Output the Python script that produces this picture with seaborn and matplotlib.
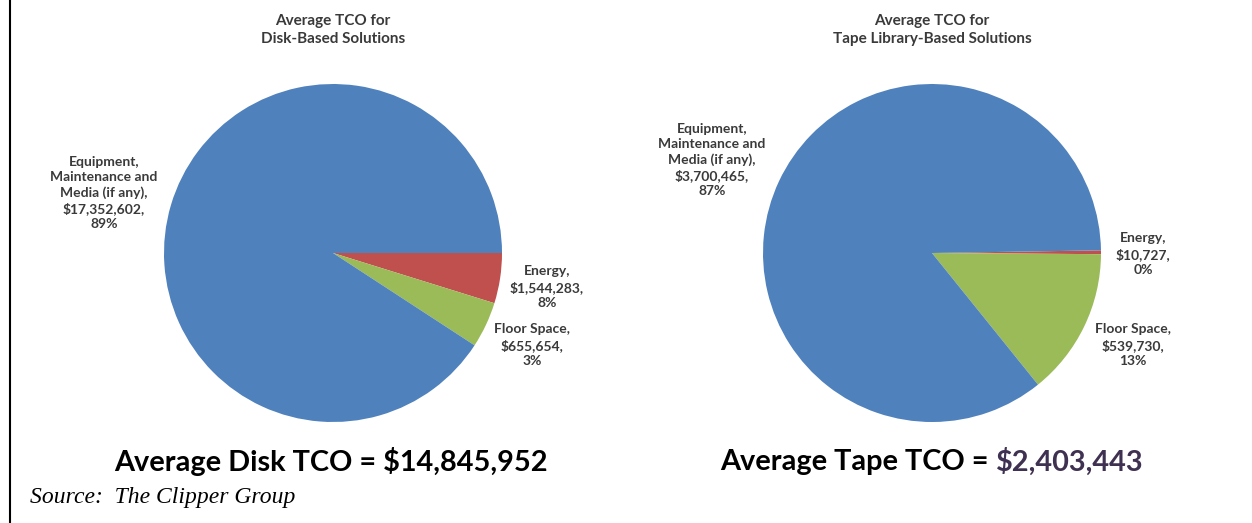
import matplotlib
matplotlib.use("Agg")
import matplotlib.pyplot as plt
import seaborn as sns
from matplotlib.lines import Line2D

sns.set_theme(style="white")
plt.rcParams['font.family'] = ['Lato', 'DejaVu Sans']

# categories (drawn clockwise from 3 o'clock: energy, floor space, equipment)
categories = ["Energy", "Floor Space", "Equipment, Maintenance and Media (if any)"]
colors = ["#C0504D", "#9BBB59", "#4F81BD"]

# wedge shares (percent) as they appear in the picture
disk_share = [4.8, 4.4, 90.8]
tape_share = [0.36, 14.1, 85.54]

# label texts
disk_labels = ["Energy,\n$1,544,283,\n8%",
               "Floor Space,\n$655,654,\n3%",
               "Equipment,\nMaintenance and\nMedia (if any),\n$17,352,602,\n89%"]
tape_labels = ["Energy,\n$10,727,\n0%",
               "Floor Space,\n$539,730,\n13%",
               "Equipment,\nMaintenance and\nMedia (if any),\n$3,700,465,\n87%"]

disk_title = "Average TCO for\nDisk-Based Solutions"
tape_title = "Average TCO for\nTape Library-Based Solutions"
disk_total = "$14,845,952"
tape_total = "$2,403,443"

W, H = 1252, 523
fig = plt.figure(figsize=(W / 100, H / 100), dpi=100)
fig.patch.set_facecolor("white")


def px(x, y):
    # pixel position (from top-left) -> figure fraction
    return x / W, 1 - y / H


def draw_pie(cx, cy, r, shares, start):
    ax = fig.add_axes([(cx - r) / W, (H - cy - r) / H, 2 * r / W, 2 * r / H])
    ax.pie(shares, colors=colors, startangle=start, counterclock=False,
           radius=1, wedgeprops=dict(linewidth=0))
    ax.set_xlim(-1, 1)
    ax.set_ylim(-1, 1)
    ax.set_aspect("equal")
    ax.axis("off")
    return ax


draw_pie(333, 253, 169, disk_share, 0)
draw_pie(932, 253, 169, tape_share, 0.9)

lab_kw = dict(ha="center", va="center", fontsize=10, fontweight="bold",
              color="#3a3a3a", linespacing=1.3)
tit_kw = dict(ha="center", va="center", fontsize=11, fontweight="bold",
              color="#3a3a3a", linespacing=1.4)

fig.text(*px(333, 30), disk_title, **tit_kw)
fig.text(*px(932, 30), tape_title, **tit_kw)

fig.text(*px(104, 193), disk_labels[2], **lab_kw)
fig.text(*px(547, 287), disk_labels[0], **lab_kw)
fig.text(*px(532, 345), disk_labels[1], **lab_kw)

fig.text(*px(712, 160), tape_labels[2], **lab_kw)
fig.text(*px(1143, 254), tape_labels[0], **lab_kw)
fig.text(*px(1133, 345), tape_labels[1], **lab_kw)

big_kw = dict(va="center", fontsize=20.8, fontweight="bold")
fig.text(*px(331, 462), "Average Disk TCO = " + disk_total, ha="center",
         color="black", **big_kw)
t = fig.text(*px(720, 462), "Average Tape TCO = ", ha="left",
             color="black", **big_kw)
fig.canvas.draw()
bb = t.get_window_extent()
fig.text(bb.x1 / W, 1 - 462 / H, tape_total, ha="left", color="#3F3151", **big_kw)

fig.text(*px(30, 498), "Source:  The Clipper Group", ha="left", va="center",
         fontsize=17, fontstyle="italic", family=["Liberation Serif"],
         color="black")

# left border line
fig.add_artist(Line2D([9.5 / W, 9.5 / W], [0, 1], color="black", linewidth=1.5,
                      transform=fig.transFigure))

fig.savefig("out.png", dpi=100, facecolor="white")
